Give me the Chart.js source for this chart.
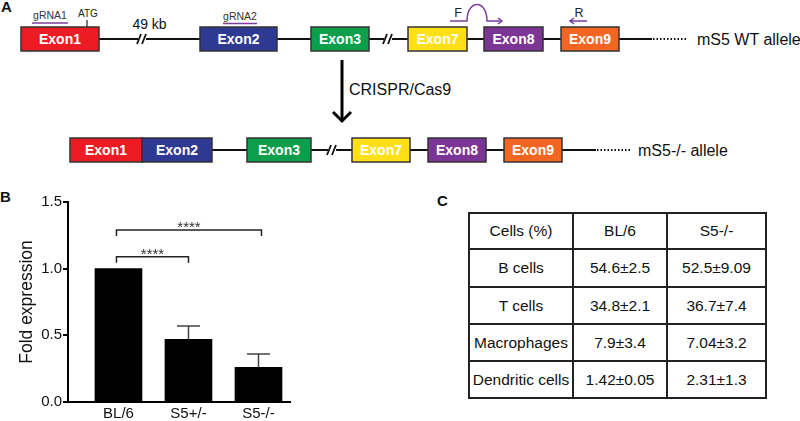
<!DOCTYPE html>
<html>
<head>
<meta charset="utf-8">
<script src="https://cdn.jsdelivr.net/npm/chart.js@4.4.1/dist/chart.umd.min.js"></script>
<style>
  body { margin: 0; background: #fff; }
  #page { position: relative; width: 800px; height: 421px; overflow: hidden; font-family: 'Liberation Sans', Arial, sans-serif; color: #111; }
  .panel { position: absolute; font-weight: bold; font-size: 15px; }
  #diagram { position: absolute; left: 0; top: 0; }
  #barCanvas { position: absolute; left: 0; top: 190px; }
  #cellTable { position: absolute; left: 468px; top: 212px; width: 297px; border-collapse: collapse; table-layout: fixed; font-size: 15.5px; }
  #cellTable td { border: 2px solid #222; text-align: center; padding: 0; line-height: 18px; }
</style>
</head>
<body>
<div id="page">
  <svg id="diagram" width="800" height="180" font-family="Liberation Sans, Arial, sans-serif"></svg>
  <div class="panel" style="left:1px; top:-2px;">A</div>
  <div class="panel" style="left:0px; top:188px;">B</div>
  <div class="panel" style="left:437px; top:192px;">C</div>
  <canvas id="barCanvas" width="300" height="231"></canvas>
  <table id="cellTable"></table>
</div>
<script>
// panel B data
const categories = ['BL/6', 'S5+/-', 'S5-/-'];
const foldExpression = [1.0, 0.47, 0.26];
const foldError = [0, 0.10, 0.10];
const yTicks = [0, 0.5, 1.0, 1.5];
// significance brackets: bars compared, label, height (in fold units)
const compareFrom = [0, 0];
const compareTo = [1, 2];
const compareLabel = ['****', '****'];
const compareLevel = [1.09, 1.29];

// panel C data
const tableHeader = ['Cells (%)', 'BL/6', 'S5-/-'];
const cellTypes = ['B cells', 'T cells', 'Macrophages', 'Dendritic cells'];
const bl6Values = ['54.6±2.5', '34.8±2.1', '7.9±3.4', '1.42±0.05'];
const s5Values = ['52.5±9.09', '36.7±7.4', '7.04±3.2', '2.31±1.3'];

// panel A exons
const wtExons = ['Exon1', 'Exon2', 'Exon3', 'Exon7', 'Exon8', 'Exon9'];
const koExons = ['Exon1', 'Exon2', 'Exon3', 'Exon7', 'Exon8', 'Exon9'];
const exonColors = { Exon1: '#ED1C24', Exon2: '#2E3A92', Exon3: '#0B9F4C', Exon7: '#FFE016', Exon8: '#7A3595', Exon9: '#F26522' };

// --- gene diagram (panel A) ---
const NS = 'http://www.w3.org/2000/svg';
const svg = document.getElementById('diagram');
function el(tag, attrs, text) {
    const e = document.createElementNS(NS, tag);
    for (const k in attrs) e.setAttribute(k, attrs[k]);
    if (text) e.textContent = text;
    svg.appendChild(e);
    return e;
}
function line(x1, y1, x2, y2, stroke, w, extra) {
    return el('line', Object.assign({ x1, y1, x2, y2, stroke, 'stroke-width': w }, extra || {}));
}
function brk(x, y) {
    el('rect', { x: x - 3, y: y - 3, width: 8, height: 6, fill: '#fff' });
    line(x - 4, y + 5, x, y - 5, '#111', 1.8);
    line(x + 1, y + 5, x + 5, y - 5, '#111', 1.8);
}
function exon(name, x0, x1, y0) {
    el('rect', { x: x0, y: y0, width: x1 - x0, height: 24, fill: exonColors[name], stroke: '#333', 'stroke-width': 1.5 });
    el('text', { x: (x0 + x1) / 2, y: y0 + 17, 'text-anchor': 'middle', fill: '#fff', 'font-weight': 'bold', 'font-size': 14 }, name);
}

// WT allele
const wtPos = [[21, 99], [200, 277], [311, 369], [408, 467], [484, 543], [561, 619]];
line(99, 39, 652, 39, '#111', 2);
line(653, 39, 688, 39, '#111', 2, { 'stroke-dasharray': '1.5 2' });
brk(141, 39);
brk(387, 39);
wtExons.forEach((n, i) => exon(n, wtPos[i][0], wtPos[i][1], 27));
el('text', { x: 697, y: 45, 'font-size': 16, fill: '#111' }, 'mS5 WT allele');
el('text', { x: 50, y: 19, 'font-size': 10.5, 'text-anchor': 'middle', fill: '#333' }, 'gRNA1');
line(32, 23, 68, 23, '#7B3F9E', 1.5);
el('text', { x: 240, y: 20, 'font-size': 10.5, 'text-anchor': 'middle', fill: '#333' }, 'gRNA2');
line(223, 23.5, 257, 23.5, '#7B3F9E', 1.5);
el('text', { x: 88, y: 17, 'font-size': 10, 'text-anchor': 'middle', fill: '#222' }, 'ATG');
line(87, 20, 87, 27, '#222', 1.2);
el('text', { x: 149.5, y: 29, 'font-size': 14, 'text-anchor': 'middle', fill: '#111' }, '49 kb');
// primers
el('path', { d: 'M450,21 L467,21 C467,-1 487,-1 487,21 L502,21', fill: 'none', stroke: '#7B3F9E', 'stroke-width': 1.5 });
el('path', { d: 'M498,18 L502,21 L498,24', fill: 'none', stroke: '#7B3F9E', 'stroke-width': 1.5 });
el('text', { x: 458, y: 17, 'font-size': 12.5, 'text-anchor': 'middle', fill: '#222' }, 'F');
el('path', { d: 'M587,21 L570,21 M574,18 L570,21 L574,24', fill: 'none', stroke: '#7B3F9E', 'stroke-width': 1.5 });
el('text', { x: 579, y: 17, 'font-size': 12.5, 'text-anchor': 'middle', fill: '#222' }, 'R');

// CRISPR arrow
line(342, 60, 342, 121, '#000', 3);
el('path', { d: 'M333,112 L342,121 L351,112', fill: 'none', stroke: '#000', 'stroke-width': 3 });
el('text', { x: 349, y: 95, 'font-size': 16, fill: '#111' }, 'CRISPR/Cas9');

// KO allele
const koPos = [[70, 142], [142, 212], [247, 311], [352, 410], [428, 486], [504, 562]];
line(212, 150, 596, 150, '#111', 2);
line(597, 150, 632, 150, '#111', 2, { 'stroke-dasharray': '1.5 2' });
brk(331, 150);
koExons.forEach((n, i) => exon(n, koPos[i][0], koPos[i][1], 138));
el('text', { x: 638, y: 156, 'font-size': 16, fill: '#111' }, 'mS5-/- allele');

// --- table (panel C) ---
const colW = [104, 94, 99];
const rowH = [36, 38, 37, 37, 37];
const table = document.getElementById('cellTable');
const cg = document.createElement('colgroup');
colW.forEach(w => { const c = document.createElement('col'); c.style.width = w + 'px'; cg.appendChild(c); });
table.appendChild(cg);
const rows = [tableHeader].concat(cellTypes.map((c, i) => [c, bl6Values[i], s5Values[i]]));
rows.forEach((r, ri) => {
    const tr = document.createElement('tr');
    r.forEach(txt => {
        const td = document.createElement('td');
        td.textContent = txt;
        td.style.height = (rowH[ri] - 2) + 'px';
        tr.appendChild(td);
    });
    table.appendChild(tr);
});

// --- bar chart (panel B) ---
const extrasPlugin = {
    id: 'extras',
    afterDatasetsDraw(chart) {
        const { ctx, scales: { x, y } } = chart;
        const meta = chart.getDatasetMeta(0);
        ctx.save();
        // error bars (upper only)
        ctx.strokeStyle = '#444';
        ctx.lineWidth = 1.5;
        meta.data.forEach((bar, i) => {
            if (!foldError[i]) return;
            const top = y.getPixelForValue(foldExpression[i] + foldError[i]);
            ctx.beginPath();
            ctx.moveTo(bar.x, bar.y);
            ctx.lineTo(bar.x, top);
            ctx.moveTo(bar.x - 11.5, top);
            ctx.lineTo(bar.x + 11.5, top);
            ctx.stroke();
        });
        // significance brackets
        ctx.strokeStyle = '#222';
        ctx.fillStyle = '#333';
        ctx.font = '15px "Liberation Sans", Arial';
        ctx.textAlign = 'center';
        ctx.textBaseline = 'alphabetic';
        compareLevel.forEach((lv, i) => {
            const x0 = meta.data[compareFrom[i]].x - 2;
            const x1 = meta.data[compareTo[i]].x + (compareTo[i] === 2 ? 3 : 0);
            const yy = y.getPixelForValue(lv);
            ctx.beginPath();
            ctx.moveTo(x0, yy + 6);
            ctx.lineTo(x0, yy);
            ctx.lineTo(x1, yy);
            ctx.lineTo(x1, yy + 6);
            ctx.stroke();
            ctx.fillText(compareLabel[i], (x0 + x1) / 2, yy + 2);
        });
        ctx.restore();
    }
};

new Chart(document.getElementById('barCanvas').getContext('2d'), {
    type: 'bar',
    data: {
        datasets: [{
            data: foldExpression.map((v, i) => ({ x: i + 1, y: v })),
            backgroundColor: '#000',
            borderWidth: 0,
            barThickness: 47
        }]
    },
    options: {
        responsive: false,
        animation: false,
        layout: { padding: { top: 12, right: 10, bottom: 0, left: 0 } },
        plugins: { legend: { display: false }, tooltip: { enabled: false } },
        scales: {
            x: {
                type: 'linear',
                offset: false,
                min: 0.279,
                max: 3.45,
                afterBuildTicks: s => { s.ticks = categories.map((c, i) => ({ value: i + 1 })); },
                afterFit: s => { s.height = 19; },
                grid: { display: false, drawTicks: false },
                border: { display: true, color: '#000', width: 2 },
                ticks: {
                    autoSkip: false, maxRotation: 0, padding: 3,
                    color: '#111', font: { size: 15, family: '"Liberation Sans", Arial' },
                    callback: v => categories[Math.round(v) - 1]
                }
            },
            y: {
                min: 0,
                max: 1.5,
                afterBuildTicks: s => { s.ticks = yTicks.map(v => ({ value: v })); },
                afterFit: s => { s.width = 68; },
                grid: { drawOnChartArea: false, drawTicks: true, tickLength: 5, color: '#000', lineWidth: 2 },
                border: { display: true, color: '#000', width: 2 },
                ticks: {
                    padding: 1, color: '#111',
                    font: { size: 15, family: '"Liberation Sans", Arial' },
                    callback: v => v.toFixed(1)
                },
                title: {
                    display: true, text: 'Fold expression', color: '#111',
                    font: { size: 17.5, family: '"Liberation Sans", Arial' },
                    padding: { top: 17, bottom: 0 }
                }
            }
        }
    },
    plugins: [extrasPlugin]
});
</script>
</body>
</html>
